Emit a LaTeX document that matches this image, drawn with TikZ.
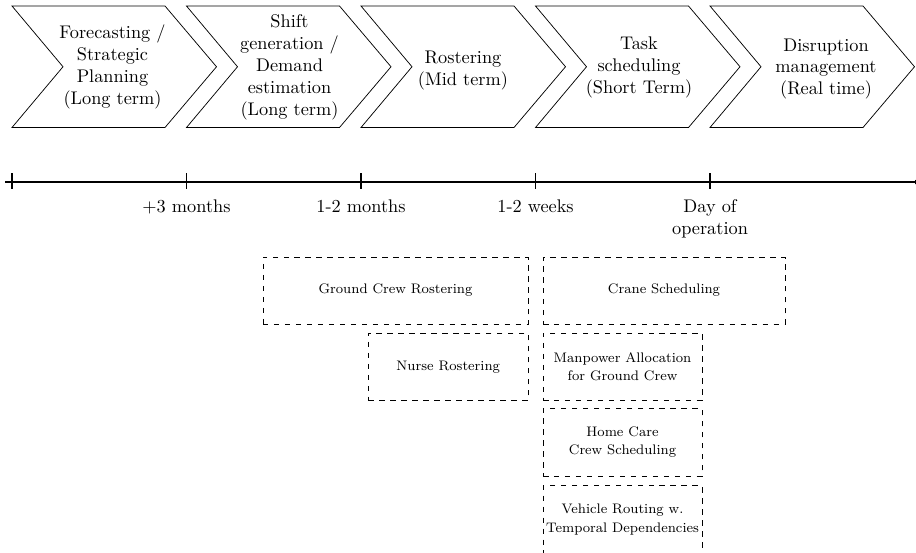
\documentclass[tikz,border=0pt]{standalone}
\usetikzlibrary{arrows.meta}
\newcommand\pxu{0.5464pt}
\tikzset{
  chev/.style={draw, line width=0.4pt, line join=miter},
  chevtext/.style={align=center, font=\fontsize{10}{12}\selectfont, inner sep=0pt},
  dbox/.style={draw, dashed, line width=0.4pt, inner sep=0pt, align=center, font=\fontsize{7.55}{10}\selectfont},
  axisline/.style={line width=0.6pt},
  ticklabel/.style={anchor=north, inner sep=0pt, align=center, font=\fontsize{10}{12}\selectfont}
}
\begin{document}
\begin{tikzpicture}[x=0.5464pt, y=-0.5464pt]
\useasboundingbox (0,0) rectangle (916,552);

% chevrons
\foreach \L in {12,186.5,361,535.5,710}
  \draw[chev] (\L,6) -- ++(153,0) -- ++(51.5,60.75) -- ++(-51.5,60.75) -- ++(-153,0) -- ++(51,-60.75) -- cycle;

\node[chevtext] (c1) at (112.5,67) {Forecasting /\\Strategic\\Planning\\(Long term)};
\node[chevtext] (c2) at (289.5,67.5) {Shift\\generation /\\Demand\\estimation\\(Long term)};
\node[chevtext] (c3) at (463,71) {Rostering\\(Mid term)};
\node[chevtext] (c4) at (639,67) {Task\\scheduling\\(Short Term)};
\node[chevtext] (c5) at (826,69) {Disruption\\management\\(Real time)};

% timeline
\coordinate (tlstart) at (5,182);
\coordinate (tlend) at (920.5,182);
\draw[axisline, -{Latex[length=3pt, width=2.6pt]}] (tlstart) -- (tlend);
\foreach \x in {12,186.5,361,535.5,710}
  \draw[axisline] (\x,173) -- (\x,189);

\node[ticklabel] (t1) at (186.5,199) {+3 months};
\node[ticklabel] (t2) at (361,199) {1-2 months};
\node[ticklabel] (t3) at (535.5,199) {1-2 weeks};
\node[ticklabel] (t4) at (710,199) {Day of\\operation};

% problem boxes
\node[dbox, minimum width=265*\pxu, minimum height=67*\pxu] (gcr) at (395.5,290.5) {Ground Crew Rostering};
\node[dbox, minimum width=242*\pxu, minimum height=67*\pxu] (crane) at (664,290.5) {Crane Scheduling};
\node[dbox, minimum width=159.5*\pxu, minimum height=67.5*\pxu] (nurse) at (448.25,366.75) {Nurse Rostering};
\node[dbox, minimum width=159*\pxu, minimum height=67.5*\pxu] (manp) at (622.5,366.75) {Manpower Allocation\\for Ground Crew};
\node[dbox, minimum width=159*\pxu, minimum height=67.5*\pxu] (home) at (622.5,442.25) {Home Care\\Crew Scheduling};
\node[dbox, minimum width=159*\pxu, minimum height=67.5*\pxu] (vrp) at (622.5,519.5) {Vehicle Routing w.\\Temporal Dependencies};
\end{tikzpicture}
\end{document}
